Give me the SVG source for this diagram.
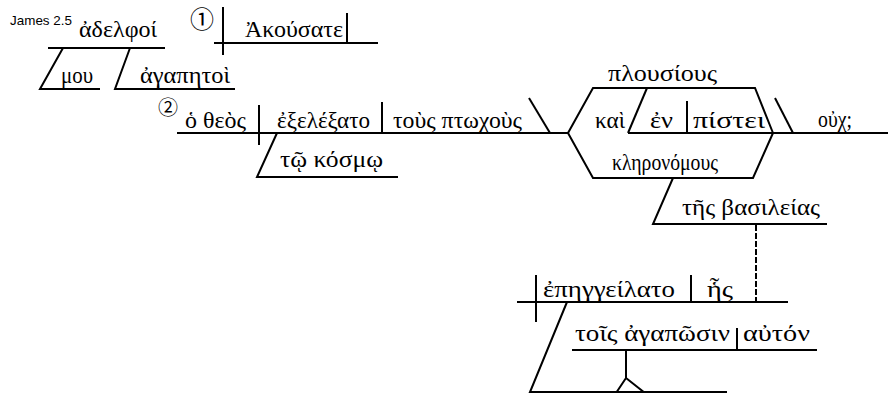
<svg xmlns="http://www.w3.org/2000/svg" width="888" height="393" viewBox="0 0 888 393">
  <style>
    .ln { stroke: #000; stroke-width: 2; fill: none; stroke-linecap: butt; }
    .dash { stroke: #000; stroke-width: 2; fill: none; stroke-dasharray: 6 2; }
    .gr { font-family: "Liberation Serif", "DejaVu Serif", serif; font-size: 23px; fill: #000; }
    .ref { font-family: "Liberation Sans", Arial, sans-serif; font-size: 13px; fill: #000; }
    .num { font-family: "Noto Sans CJK JP", "DejaVu Sans", sans-serif; fill: #000; text-anchor: middle; }
  </style>
  <rect width="888" height="393" fill="#fff"/>

  <text class="ref" x="10" y="25" textLength="62" lengthAdjust="spacingAndGlyphs">James 2.5</text>

  <!-- clause 1: vocative and imperative -->
  <g id="vocative">
    <text class="gr" x="79" y="37" textLength="78" lengthAdjust="spacingAndGlyphs">ἀδελφοί</text>
    <text class="gr" x="61" y="83" textLength="32" lengthAdjust="spacingAndGlyphs">μου</text>
    <text class="gr" x="140" y="83" textLength="90" lengthAdjust="spacingAndGlyphs">ἀγαπητοὶ</text>
  </g>
  <g id="clause1">
    <text class="num" x="202" y="27.5" font-size="24">①</text>
    <text class="gr" x="245" y="37" textLength="98" lengthAdjust="spacingAndGlyphs">Ἀκούσατε</text>
  </g>

  <!-- clause 2: main sentence -->
  <g id="clause2">
    <text class="num" x="168" y="115" font-size="20">②</text>
    <text class="gr" x="185" y="128" textLength="61" lengthAdjust="spacingAndGlyphs">ὁ θεὸς</text>
    <text class="gr" x="277" y="128" textLength="93" lengthAdjust="spacingAndGlyphs">ἐξελέξατο</text>
    <text class="gr" x="393" y="128" textLength="129" lengthAdjust="spacingAndGlyphs">τοὺς πτωχοὺς</text>
    <text class="gr" x="280" y="167" textLength="103" lengthAdjust="spacingAndGlyphs">τῷ κόσμῳ</text>
  </g>
  <g id="compound-complement">
    <text class="gr" x="608" y="81" textLength="109" lengthAdjust="spacingAndGlyphs">πλουσίους</text>
    <text class="gr" x="595" y="128" textLength="30" lengthAdjust="spacingAndGlyphs">καὶ</text>
    <text class="gr" x="650" y="128" textLength="23" lengthAdjust="spacingAndGlyphs">ἐν</text>
    <text class="gr" x="693" y="128" textLength="72" lengthAdjust="spacingAndGlyphs">πίστει</text>
    <text class="gr" x="612" y="170" textLength="106" lengthAdjust="spacingAndGlyphs">κληρονόμους</text>
    <text class="gr" x="682" y="215" textLength="138" lengthAdjust="spacingAndGlyphs">τῆς βασιλείας</text>
  </g>
  <g id="tag">
    <text class="gr" x="818" y="127" textLength="34" lengthAdjust="spacingAndGlyphs">οὐχ;</text>
  </g>

  <!-- relative clause -->
  <g id="relative-clause">
    <text class="gr" x="543" y="297" textLength="132" lengthAdjust="spacingAndGlyphs">ἐπηγγείλατο</text>
    <text class="gr" x="707" y="297" textLength="26" lengthAdjust="spacingAndGlyphs">ἧς</text>
    <text class="gr" x="575" y="341" textLength="155" lengthAdjust="spacingAndGlyphs">τοῖς ἀγαπῶσιν</text>
    <text class="gr" x="743" y="341" textLength="67" lengthAdjust="spacingAndGlyphs">αὐτόν</text>
  </g>

  <!-- diagram lines -->
  <g id="connectors">
    <!-- vocative -->
    <path class="ln" d="M48 48H165"/>
    <path class="ln" d="M63 48L40 89H100"/>
    <path class="ln" d="M130 48L115 89H235"/>
    <!-- clause 1 baseline -->
    <path class="ln" d="M214 43H378"/>
    <path class="ln" d="M223 7V55"/>
    <path class="ln" d="M347 13V43"/>
    <!-- clause 2 baseline -->
    <path class="ln" d="M177 133H568"/>
    <path class="ln" d="M259 105V145"/>
    <path class="ln" d="M382 102V133"/>
    <path class="ln" d="M529 98L550 133"/>
    <path class="ln" d="M277 133L257 177H398"/>
    <!-- compound fork -->
    <path class="ln" d="M568 133L593 88H755L773 133"/>
    <path class="ln" d="M568 133L593 178H753L773 133"/>
    <path class="ln" d="M628 133H888"/>
    <path class="ln" d="M647 88L628 133"/>
    <path class="ln" d="M687 101V133"/>
    <path class="ln" d="M775 98L793 133"/>
    <path class="ln" d="M673 178L653 224H827"/>
    <!-- relative link -->
    <path class="dash" d="M756 225V302"/>
    <!-- relative clause baseline -->
    <path class="ln" d="M517 302H788"/>
    <path class="ln" d="M536 275V322"/>
    <path class="ln" d="M691 275V302"/>
    <path class="ln" d="M567 302L530 392H727"/>
    <path class="ln" d="M572 350H817"/>
    <path class="ln" d="M737 328V350"/>
    <path class="ln" d="M626 350V378L616 393M626 378L645 393"/>
  </g>
</svg>
